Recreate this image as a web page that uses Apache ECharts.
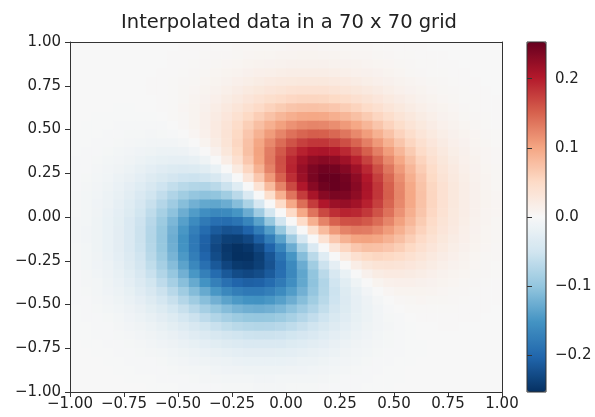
<!DOCTYPE html>
<html>
<head>
<meta charset="utf-8">
<title>Interpolated data</title>
<script src="https://cdn.jsdelivr.net/npm/echarts@6/dist/echarts.min.js"></script>
<style>
html, body { margin: 0; padding: 0; background: #fff; }
#chart { width: 595px; height: 417px; }
</style>
</head>
<body>
<div id="chart"></div>
<script>
var TITLE = "Interpolated data in a 70 x 70 grid";

// cell centres, x left to right, y top to bottom
var xs = [-0.975, -0.925, -0.875, -0.825, -0.775, -0.725, -0.675, -0.625, -0.575, -0.525,
    -0.475, -0.425, -0.375, -0.325, -0.275, -0.225, -0.175, -0.125, -0.075, -0.025,
    0.025, 0.075, 0.125, 0.175, 0.225, 0.275, 0.325, 0.375, 0.425, 0.475,
    0.525, 0.575, 0.625, 0.675, 0.725, 0.775, 0.825, 0.875, 0.925, 0.975];
var ys = [0.975, 0.925, 0.875, 0.825, 0.775, 0.725, 0.675, 0.625, 0.575, 0.525,
    0.475, 0.425, 0.375, 0.325, 0.275, 0.225, 0.175, 0.125, 0.075, 0.025,
    -0.025, -0.075, -0.125, -0.175, -0.225, -0.275, -0.325, -0.375, -0.425, -0.475,
    -0.525, -0.575, -0.625, -0.675, -0.725, -0.775, -0.825, -0.875, -0.925, -0.975];

// values, one row per y (top row first)
var z = [
    [0,0,0,0,0,0,0,0,0,0,.001,.001,.001,.002,.002,.003,.003,.004,.004,.004,.005,.005,.005,.004,.004,.004,.003,.003,.002,.002,.001,.001,.001,0,0,0,0,0,0,0],
    [0,0,0,0,0,0,0,0,0,.001,.001,.001,.002,.003,.003,.004,.005,.006,.006,.007,.007,.008,.008,.007,.007,.006,.005,.005,.004,.003,.002,.002,.001,.001,.001,0,0,0,0,0],
    [0,0,0,0,0,0,0,0,0,.001,.001,.002,.003,.004,.005,.006,.008,.009,.010,.011,.012,.012,.012,.012,.011,.010,.009,.007,.006,.005,.004,.003,.002,.002,.001,.001,0,0,0,0],
    [0,0,0,0,0,0,0,0,.001,.001,.002,.003,.004,.006,.008,.009,.012,.014,.015,.017,.018,.018,.018,.018,.017,.015,.013,.012,.010,.008,.006,.004,.003,.002,.002,.001,.001,0,0,0],
    [0,0,0,0,0,0,0,.001,.001,.002,.003,.004,.006,.008,.011,.014,.017,.020,.023,.025,.026,.027,.027,.027,.025,.023,.020,.017,.014,.012,.009,.007,.005,.004,.003,.002,.001,.001,0,0],
    [0,0,0,0,0,0,0,.001,.001,.002,.004,.005,.008,.011,.015,.019,.024,.028,.032,.035,.038,.039,.039,.039,.036,.033,.029,.025,.021,.017,.013,.010,.008,.005,.004,.003,.002,.001,.001,0],
    [0,0,0,0,0,0,0,0,.001,.002,.004,.007,.010,.014,.020,.025,.032,.038,.044,.049,.053,.055,.055,.054,.051,.047,.041,.036,.030,.024,.019,.015,.011,.008,.005,.004,.002,.002,.001,.001],
    [0,0,0,0,-.001,-.001,0,0,.001,.002,.005,.008,.012,.018,.025,.033,.041,.050,.058,.065,.071,.074,.075,.073,.070,.064,.057,.049,.041,.033,.026,.020,.015,.011,.008,.005,.003,.002,.001,.001],
    [0,0,-.001,-.001,-.001,-.001,-.001,-.001,0,.002,.004,.008,.014,.021,.030,.040,.052,.063,.074,.084,.092,.097,.098,.097,.092,.085,.076,.066,.055,.045,.035,.027,.020,.015,.010,.007,.004,.003,.002,.001],
    [0,-.001,-.001,-.001,-.002,-.002,-.002,-.002,-.002,0,.003,.008,.014,.023,.034,.047,.062,.077,.091,.104,.115,.122,.125,.123,.118,.109,.098,.085,.071,.058,.046,.035,.026,.019,.013,.009,.006,.004,.002,.001],
    [-.001,-.001,-.001,-.002,-.003,-.004,-.004,-.005,-.004,-.003,0,.005,.013,.023,.036,.052,.070,.089,.108,.125,.139,.148,.153,.152,.146,.136,.122,.107,.090,.074,.058,.045,.033,.024,.017,.012,.008,.005,.003,.002],
    [-.001,-.001,-.002,-.003,-.004,-.005,-.007,-.008,-.008,-.008,-.005,0,.008,.020,.035,.054,.075,.099,.122,.143,.161,.174,.181,.181,.175,.164,.148,.129,.110,.090,.071,.055,.041,.030,.021,.014,.010,.006,.004,.002],
    [-.001,-.002,-.003,-.004,-.006,-.008,-.010,-.012,-.014,-.014,-.013,-.008,0,.012,.029,.051,.076,.103,.131,.157,.180,.196,.206,.208,.203,.191,.173,.152,.129,.107,.085,.066,.049,.036,.025,.017,.012,.007,.005,.003],
    [-.002,-.003,-.004,-.006,-.008,-.011,-.014,-.018,-.021,-.023,-.023,-.020,-.012,0,.018,.041,.069,.101,.133,.164,.192,.213,.226,.231,.227,.215,.196,.173,.148,.122,.098,.076,.057,.041,.029,.020,.013,.009,.005,.003],
    [-.002,-.003,-.005,-.008,-.011,-.015,-.020,-.025,-.030,-.034,-.036,-.035,-.029,-.018,0,.024,.055,.089,.126,.162,.195,.221,.238,.246,.244,.233,.215,.191,.164,.136,.109,.085,.064,.047,.033,.023,.015,.010,.006,.004],
    [-.003,-.004,-.006,-.009,-.014,-.019,-.025,-.033,-.040,-.047,-.052,-.054,-.051,-.041,-.024,0,.032,.069,.109,.150,.187,.218,.240,.252,.253,.244,.227,.203,.175,.146,.118,.092,.070,.051,.036,.025,.017,.011,.007,.004],
    [-.003,-.005,-.008,-.012,-.017,-.024,-.032,-.041,-.052,-.062,-.070,-.075,-.076,-.069,-.055,-.032,0,.038,.081,.126,.168,.204,.231,.247,.252,.246,.231,.208,.181,.152,.123,.097,.073,.054,.039,.027,.018,.012,.007,.004],
    [-.004,-.006,-.009,-.014,-.020,-.028,-.038,-.050,-.063,-.077,-.089,-.099,-.103,-.101,-.089,-.069,-.038,0,.044,.091,.137,.177,.209,.231,.240,.238,.226,.206,.181,.153,.125,.098,.075,.055,.039,.027,.018,.012,.008,.005],
    [-.004,-.006,-.010,-.015,-.023,-.032,-.044,-.058,-.074,-.091,-.108,-.122,-.131,-.133,-.126,-.109,-.081,-.044,0,.048,.097,.141,.177,.204,.218,.221,.213,.196,.174,.148,.122,.097,.074,.055,.039,.027,.018,.012,.008,.005],
    [-.004,-.007,-.011,-.017,-.025,-.035,-.049,-.065,-.084,-.104,-.125,-.143,-.157,-.164,-.162,-.150,-.126,-.091,-.048,0,.050,.097,.137,.168,.187,.195,.192,.180,.161,.139,.115,.092,.071,.053,.038,.026,.018,.012,.007,.005],
    [-.005,-.007,-.012,-.018,-.026,-.038,-.053,-.071,-.092,-.115,-.139,-.161,-.180,-.192,-.195,-.187,-.168,-.137,-.097,-.050,0,.048,.091,.126,.150,.162,.164,.157,.143,.125,.104,.084,.065,.049,.035,.025,.017,.011,.007,.004],
    [-.005,-.008,-.012,-.018,-.027,-.039,-.055,-.074,-.097,-.122,-.148,-.174,-.196,-.213,-.221,-.218,-.204,-.177,-.141,-.097,-.048,0,.044,.081,.109,.126,.133,.131,.122,.108,.091,.074,.058,.044,.032,.023,.015,.010,.006,.004],
    [-.005,-.008,-.012,-.018,-.027,-.039,-.055,-.075,-.098,-.125,-.153,-.181,-.206,-.226,-.238,-.240,-.231,-.209,-.177,-.137,-.091,-.044,0,.038,.069,.089,.101,.103,.099,.089,.077,.063,.050,.038,.028,.020,.014,.009,.006,.004],
    [-.004,-.007,-.012,-.018,-.027,-.039,-.054,-.073,-.097,-.123,-.152,-.181,-.208,-.231,-.246,-.252,-.247,-.231,-.204,-.168,-.126,-.081,-.038,0,.032,.055,.069,.076,.075,.070,.062,.052,.041,.032,.024,.017,.012,.008,.005,.003],
    [-.004,-.007,-.011,-.017,-.025,-.036,-.051,-.070,-.092,-.118,-.146,-.175,-.203,-.227,-.244,-.253,-.252,-.240,-.218,-.187,-.150,-.109,-.069,-.032,0,.024,.041,.051,.054,.052,.047,.040,.033,.025,.019,.014,.009,.006,.004,.003],
    [-.004,-.006,-.010,-.015,-.023,-.033,-.047,-.064,-.085,-.109,-.136,-.164,-.191,-.215,-.233,-.244,-.246,-.238,-.221,-.195,-.162,-.126,-.089,-.055,-.024,0,.018,.029,.035,.036,.034,.030,.025,.020,.015,.011,.008,.005,.003,.002],
    [-.003,-.005,-.009,-.013,-.020,-.029,-.041,-.057,-.076,-.098,-.122,-.148,-.173,-.196,-.215,-.227,-.231,-.226,-.213,-.192,-.164,-.133,-.101,-.069,-.041,-.018,0,.012,.020,.023,.023,.021,.018,.014,.011,.008,.006,.004,.003,.002],
    [-.003,-.005,-.007,-.012,-.017,-.025,-.036,-.049,-.066,-.085,-.107,-.129,-.152,-.173,-.191,-.203,-.208,-.206,-.196,-.180,-.157,-.131,-.103,-.076,-.051,-.029,-.012,0,.008,.013,.014,.014,.012,.010,.008,.006,.004,.003,.002,.001],
    [-.002,-.004,-.006,-.010,-.014,-.021,-.030,-.041,-.055,-.071,-.090,-.110,-.129,-.148,-.164,-.175,-.181,-.181,-.174,-.161,-.143,-.122,-.099,-.075,-.054,-.035,-.020,-.008,0,.005,.008,.008,.008,.007,.005,.004,.003,.002,.001,.001],
    [-.002,-.003,-.005,-.008,-.012,-.017,-.024,-.033,-.045,-.058,-.074,-.090,-.107,-.122,-.136,-.146,-.152,-.153,-.148,-.139,-.125,-.108,-.089,-.070,-.052,-.036,-.023,-.013,-.005,0,.003,.004,.005,.004,.004,.003,.002,.001,.001,.001],
    [-.001,-.002,-.004,-.006,-.009,-.013,-.019,-.026,-.035,-.046,-.058,-.071,-.085,-.098,-.109,-.118,-.123,-.125,-.122,-.115,-.104,-.091,-.077,-.062,-.047,-.034,-.023,-.014,-.008,-.003,0,.002,.002,.002,.002,.002,.001,.001,.001,0],
    [-.001,-.002,-.003,-.004,-.007,-.010,-.015,-.020,-.027,-.035,-.045,-.055,-.066,-.076,-.085,-.092,-.097,-.098,-.097,-.092,-.084,-.074,-.063,-.052,-.040,-.030,-.021,-.014,-.008,-.004,-.002,0,.001,.001,.001,.001,.001,.001,0,0],
    [-.001,-.001,-.002,-.003,-.005,-.008,-.011,-.015,-.020,-.026,-.033,-.041,-.049,-.057,-.064,-.070,-.073,-.075,-.074,-.071,-.065,-.058,-.050,-.041,-.033,-.025,-.018,-.012,-.008,-.005,-.002,-.001,0,0,.001,.001,0,0,0,0],
    [-.001,-.001,-.002,-.002,-.004,-.005,-.008,-.011,-.015,-.019,-.024,-.030,-.036,-.041,-.047,-.051,-.054,-.055,-.055,-.053,-.049,-.044,-.038,-.032,-.025,-.020,-.014,-.010,-.007,-.004,-.002,-.001,0,0,0,0,0,0,0,0],
    [0,-.001,-.001,-.002,-.003,-.004,-.005,-.008,-.010,-.013,-.017,-.021,-.025,-.029,-.033,-.036,-.039,-.039,-.039,-.038,-.035,-.032,-.028,-.024,-.019,-.015,-.011,-.008,-.005,-.004,-.002,-.001,-.001,0,0,0,0,0,0,0],
    [0,0,-.001,-.001,-.002,-.003,-.004,-.005,-.007,-.009,-.012,-.014,-.017,-.020,-.023,-.025,-.027,-.027,-.027,-.026,-.025,-.023,-.020,-.017,-.014,-.011,-.008,-.006,-.004,-.003,-.002,-.001,-.001,0,0,0,0,0,0,0],
    [0,0,0,-.001,-.001,-.002,-.002,-.003,-.004,-.006,-.008,-.010,-.012,-.013,-.015,-.017,-.018,-.018,-.018,-.018,-.017,-.015,-.014,-.012,-.009,-.008,-.006,-.004,-.003,-.002,-.001,-.001,0,0,0,0,0,0,0,0],
    [0,0,0,0,-.001,-.001,-.002,-.002,-.003,-.004,-.005,-.006,-.007,-.009,-.010,-.011,-.012,-.012,-.012,-.012,-.011,-.010,-.009,-.008,-.006,-.005,-.004,-.003,-.002,-.001,-.001,0,0,0,0,0,0,0,0,0],
    [0,0,0,0,0,-.001,-.001,-.001,-.002,-.002,-.003,-.004,-.005,-.005,-.006,-.007,-.007,-.008,-.008,-.007,-.007,-.006,-.006,-.005,-.004,-.003,-.003,-.002,-.001,-.001,-.001,0,0,0,0,0,0,0,0,0],
    [0,0,0,0,0,0,0,-.001,-.001,-.001,-.002,-.002,-.003,-.003,-.004,-.004,-.004,-.005,-.005,-.005,-.004,-.004,-.004,-.003,-.003,-.002,-.002,-.001,-.001,-.001,0,0,0,0,0,0,0,0,0,0]
];

var cbar_ticks = [-0.2, -0.1, 0, 0.1, 0.2];
var VMIN = -0.253, VMAX = 0.253;
// RdBu reversed
var RDBU_R = ["#053061", "#2166ac", "#4393c3", "#92c5de", "#d1e5f0", "#f7f7f7",
    "#fddbc7", "#f4a582", "#d6604d", "#b2182b", "#67001f"];

var FONT = "DejaVu Sans";
var INK = "#222";

function fmt(v, d) {
    var s = Math.abs(v).toFixed(d);
    return (v < -1e-9 ? "\u2212" : "") + s;
}

var cells = [];
for (var i = 0; i < ys.length; i++) {
    for (var j = 0; j < xs.length; j++) {
        cells.push([xs[j], ys[i], z[i][j]]);
    }
}
var half = (xs[1] - xs[0]) / 2;

function render_cell(params, api) {
    var x = api.value(0), y = api.value(1);
    var a = api.coord([x - half, y + half]);
    var b = api.coord([x + half, y - half]);
    return {
        type: "rect",
        shape: {x: a[0], y: a[1], width: b[0] - a[0] + 0.6, height: b[1] - a[1] + 0.6},
        style: {fill: api.visual("color")}
    };
}

function frame_axis(dim, pos, show_labels) {
    return {
        type: "value", gridIndex: 0, position: pos,
        min: -1, max: 1, interval: 0.25, z: 10,
        axisLine: {show: true, onZero: false, lineStyle: {color: "#333", width: 1}},
        axisTick: {show: show_labels, length: 5, lineStyle: {color: "#333"}},
        axisLabel: {
            show: show_labels, color: INK, fontSize: 15, fontFamily: FONT,
            margin: dim == "x" ? 5 : 9,
            formatter: function (v) { return fmt(v, 2); }
        },
        splitLine: {show: false}
    };
}

var chart = echarts.init(document.getElementById("chart"), null, {renderer: "canvas"});
chart.setOption({
    animation: false,
    backgroundColor: "#fff",
    title: {
        text: TITLE, left: 289, top: 13, textAlign: "center", padding: 0,
        textStyle: {fontSize: 19.5, fontWeight: "normal", color: INK, fontFamily: FONT}
    },
    grid: [
        {left: 70, top: 42, width: 432, height: 350, containLabel: false},
        {left: 527, top: 42, width: 19, height: 350, show: true, z: 5,
            borderColor: "#333", borderWidth: 1, backgroundColor: "transparent"}
    ],
    xAxis: [
        frame_axis("x", "bottom", true),
        frame_axis("x", "top", false),
        {type: "value", gridIndex: 1, min: 0, max: 1, show: false}
    ],
    yAxis: [
        frame_axis("y", "left", true),
        frame_axis("y", "right", false),
        {
            type: "value", gridIndex: 1, position: "right", min: VMIN, max: VMAX, z: 10,
            axisLine: {show: false},
            axisTick: {show: true, inside: false, length: 5, customValues: cbar_ticks, lineStyle: {color: "#333"}},
            axisLabel: {
                show: true, customValues: cbar_ticks, color: INK, fontSize: 15, fontFamily: FONT, margin: 9,
                formatter: function (v) { return fmt(v, 1); }
            },
            splitLine: {show: false}
        }
    ],
    visualMap: {
        type: "continuous", min: VMIN, max: VMAX, dimension: 2, seriesIndex: 0,
        calculable: false, hoverLink: false, orient: "vertical",
        left: 527, top: 42, itemWidth: 19, itemHeight: 350, padding: 0,
        inRange: {color: RDBU_R}
    },
    series: [{
        type: "custom",
        xAxisIndex: 0, yAxisIndex: 0,
        renderItem: render_cell,
        encode: {x: 0, y: 1},
        clip: true,
        data: cells
    }]
});
</script>
</body>
</html>
